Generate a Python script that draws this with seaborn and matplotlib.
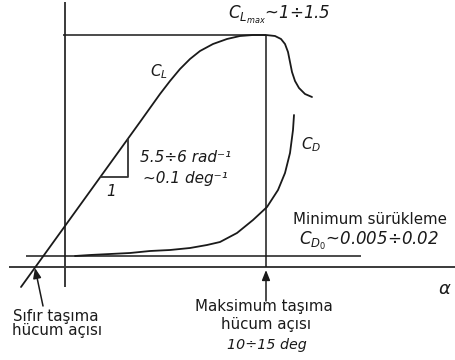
import matplotlib
matplotlib.use("Agg")
import matplotlib.pyplot as plt
import seaborn as sns
import pandas as pd

sns.set_theme(style="white")
plt.rcParams["font.family"] = ["DejaVu Sans"]
plt.rcParams["mathtext.fontset"] = "dejavusans"

# Lift curve C_L(alpha), sketch units (x to the right, y downward)
cl_x = [21, 140, 150, 160, 170, 180, 190, 200, 213, 227, 240, 253, 266,
        275, 281, 285, 288, 290, 292, 295, 299, 305, 312]
cl_y = [287, 122, 108, 94, 81, 69, 59, 51, 44, 39, 36, 35, 35,
        36, 39, 44, 52, 62, 72, 81, 88, 94, 97]

# Drag curve C_D(alpha)
cd_x = [75, 90, 110, 130, 150, 170, 190, 207, 220, 237, 253, 267, 278,
        285, 290, 293, 294]
cd_y = [256, 255, 254, 253, 251, 250, 248, 245, 242, 233, 220, 207, 190,
        173, 153, 130, 115]

# Reference lines: (x0, y0, x1, y1)
axis_lines = {
    "alpha_axis": (9, 267, 456, 267),
    "cl_axis": (65, 2, 65, 287),
    "cl_max": (63, 35, 266, 35),
    "alpha_stall": (266, 35, 266, 267),
    "cd_min": (26, 256, 361, 256),
}

# Lift-slope triangle corners
tri_x = [101, 128, 128]
tri_y = [177, 177, 139]

fig = plt.figure(figsize=(4.56, 3.6), dpi=100)
ax = fig.add_axes([0, 0, 1, 1])

ink = "#1a1a1a"
for name, (x0, y0, x1, y1) in axis_lines.items():
    lw = 1.4 if name in ("alpha_axis", "cl_axis") else 1.1
    col = "#3a3a3a" if name in ("alpha_axis", "cl_axis") else ink
    ax.plot([x0, x1], [y0, y1], color=col, lw=lw, solid_capstyle="butt")

curves = pd.concat([
    pd.DataFrame({"x": cl_x, "y": cl_y, "curve": "CL"}),
    pd.DataFrame({"x": cd_x, "y": cd_y, "curve": "CD"}),
])
for name, grp in curves.groupby("curve"):
    sns.lineplot(data=grp, x="x", y="y", sort=False, estimator=None,
                 color=ink, lw=1.3, ax=ax)
ax.plot(tri_x, tri_y, color="#333333", lw=1.3)
ax.set_xlim(0, 456)
ax.set_ylim(360, 0)
ax.axis("off")

# Arrows pointing at the two characteristic angles
ax.annotate("", xy=(35, 268), xytext=(43, 306),
            arrowprops=dict(arrowstyle="-|>,head_length=0.5,head_width=0.2",
                            color=ink, lw=1.1, shrinkA=0, shrinkB=0))
ax.annotate("", xy=(266, 270), xytext=(266, 301),
            arrowprops=dict(arrowstyle="-|>,head_length=0.5,head_width=0.2",
                            color=ink, lw=1.1, shrinkA=0, shrinkB=0))

it = dict(fontsize=11, fontstyle="italic", color=ink)
up = dict(fontsize=10.8, color=ink)

ax.text(228, 19, r"$C_{L_{max}}$~1÷1.5", ha="left", va="baseline",
        fontsize=12, fontstyle="italic", color=ink)
ax.text(159, 72, r"$C_L$", ha="center", va="center", **it)
ax.text(311, 145, r"$C_D$", ha="center", va="center", **it)
ax.text(140, 157, "5.5÷6 rad⁻¹", ha="left", va="center", **it)
ax.text(143, 178, "~0.1 deg⁻¹", ha="left", va="center", **it)
ax.text(111, 192, "1", ha="center", va="center", **it)
ax.text(370, 219, "Minimum sürükleme", ha="center", va="center", **up)
ax.text(369, 241, r"$C_{D_0}$~0.005÷0.02", ha="center", va="center",
        fontsize=12, fontstyle="italic", color=ink)
ax.text(445, 289, r"$\alpha$", ha="center", va="center", fontsize=13, color=ink)
ax.text(264, 306, "Maksimum taşıma", ha="center", va="center", **up)
ax.text(266, 324, "hücum açısı", ha="center", va="center", **up)
ax.text(267, 345, "10÷15 deg", ha="center", va="center",
        fontsize=10.3, fontstyle="italic", color=ink)
ax.text(56, 317, "Sıfır taşıma", ha="center", va="center", **up)
ax.text(57, 331, "hücum açısı", ha="center", va="center", **up)

fig.savefig("out.png", dpi=100, facecolor="white")
